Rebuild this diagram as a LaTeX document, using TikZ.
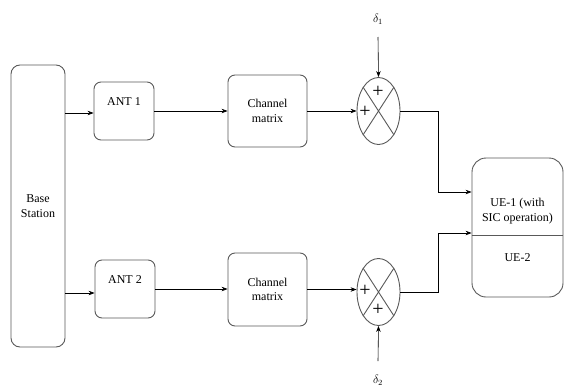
\documentclass[tikz,border=0pt]{standalone}
\usepackage{fontspec}
\setmainfont{Liberation Serif}
\newfontfamily\blockfont{Liberation Serif}
\usetikzlibrary{arrows.meta,positioning,shapes.geometric}

\begin{document}
\begin{tikzpicture}[x=1pt,y=-1pt,
		font=\blockfont\fontsize{12}{14.5}\selectfont,
		Block/.style={rectangle,draw=black!65,line width=0.9pt,align=center,rounded corners=7pt,inner sep=2pt},
		Ant/.style={Block,minimum width=60pt,text height=12pt,text depth=24pt,inner ysep=11pt},
		Sum/.style={ellipse,draw=black!65,line width=0.9pt,minimum width=43pt,minimum height=67pt,inner sep=0pt},
		Plus/.style={font=\fontsize{20}{20}\selectfont,inner sep=0pt},
		Arrow/.style={-{Stealth[length=6pt,width=4.5pt]},semithick}]
		\useasboundingbox (0,0) rectangle (564,391);
		% nodes
		\node[Block,minimum width=54pt,minimum height=282pt,rounded corners=9pt] (BS) at (38,206) {Base\\Station};
		\node[Ant] (Ant1) at (124,111) {ANT 1};
		\node[Ant] (Ant2) at (125,289) {ANT 2};
		\node[Block,minimum width=79pt,minimum height=72pt] (Chan1) at (267.5,111) {Channel\\matrix};
		\node[Block,minimum width=79pt,minimum height=73pt] (Chan2) at (267.5,289.5) {Channel\\matrix};
		\node[Sum] (Sum1) at (378.5,111) {};
		\node[Sum] (Sum2) at (378.5,292) {};
		\node (Delta1) at (378,19) {$\delta_1$};
		\node (Delta2) at (378,380) {$\delta_2$};
		\node[Block,minimum width=91pt,minimum height=139pt,rounded corners=14pt] (UE) at (517.5,227.5) {};
		\node[align=center,inner sep=0pt] (UE1) at (517.5,211) {UE-1 (with\\SIC operation)};
		\node[inner sep=0pt] (UE2) at (517.5,258) {UE-2};
		% signs inside the adders
		\node[Plus] (p11) at (378,92) {+};
		\node[Plus] (p12) at (365,112) {+};
		\node[Plus] (p21) at (365,291) {+};
		\node[Plus] (p22) at (378,310) {+};
		\draw[black!65,line width=0.9pt] (Sum1.north west) -- (Sum1.south east) (Sum1.north east) -- (Sum1.south west);
		\draw[black!65,line width=0.9pt] (Sum2.north west) -- (Sum2.south east) (Sum2.north east) -- (Sum2.south west);
		\draw[black!65,line width=0.9pt] (UE.west |- 0,235) -- (UE.east |- 0,235);
		% connections
		\coordinate (d1) at (378,37);
		\coordinate (d2) at (378,361);
		\draw[Arrow] (BS.east |- 0,113) -- (Ant1.west |- 0,113);
		\draw[Arrow] (BS.east |- 0,293) -- (Ant2.west |- 0,293);
		\draw[Arrow] (Ant1.east) -- (Chan1.west);
		\draw[Arrow] (Ant2.east) -- (Chan2.west |- Ant2.east);
		\draw[Arrow] (Chan1.east) -- (Sum1.west);
		\draw[Arrow] (Chan2.east) -- (Sum2.west |- Chan2.east);
		\draw[Arrow] (d1) -- (Sum1.north);
		\draw[Arrow] (d2) -- (Sum2.south);
		\draw[Arrow] (Sum1.east) -| (438,192) -- (UE.west |- 0,192);
		\draw[Arrow] (Sum2.east) -| (438,233) -- (UE.west |- 0,233);
	\end{tikzpicture}
\end{document}
